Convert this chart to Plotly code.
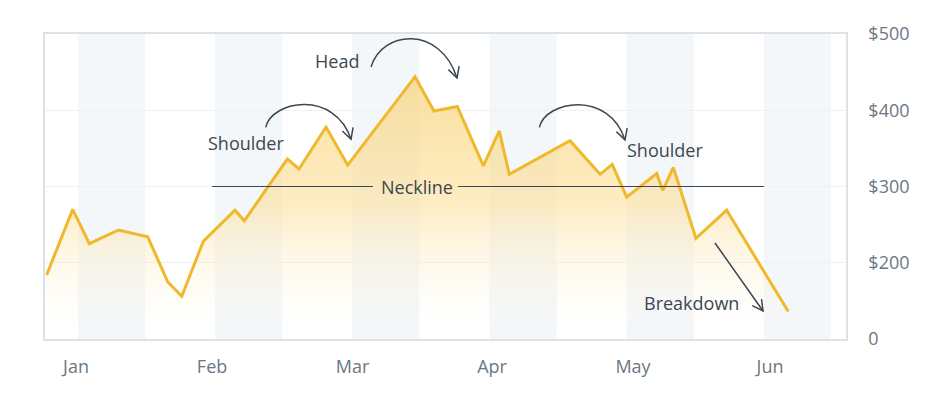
import math
import plotly.graph_objects as go

# price path, x in months from Jan (0 = Jan, 1 = Feb, ...)
months = ["Jan", "Feb", "Mar", "Apr", "May", "Jun"]
month_ticks = [-0.014, 0.978, 2.003, 3.019, 4.047, 5.046]
x_pos = [-0.228, -0.038, 0.083, 0.295, 0.509, 0.655, 0.757, 0.914, 1.145, 1.213,
         1.527, 1.612, 1.809, 1.967, 2.458, 2.596, 2.766, 2.956, 3.072, 3.145,
         3.588, 3.807, 3.896, 4.001, 4.220, 4.264, 4.341, 4.506, 4.730, 5.179]
price = [184, 270, 225, 243, 234, 175, 156, 228, 269, 255,
         336, 323, 378, 328, 444, 399, 405, 327, 373, 316,
         360, 316, 329, 286, 317, 295, 325, 232, 269, 136]
neckline = 300
y_ticks = [100, 200, 300, 400, 500]
y_labels = ["0", "$200", "$300", "$400", "$500"]

# page body adds 8px margin, so the figure is a bit smaller than the window
W, H = 939, 398
L, R, T, B = 37, 101, 26, 67
XR = [-0.24, 5.6]
YR = [100, 500]
px_x = (W - L - R) / (XR[1] - XR[0])
px_y = (H - T - B) / (YR[1] - YR[0])

INK = "#3b4751"
FONT = "Open Sans"

fig = go.Figure()
fig.add_trace(go.Scatter(
    x=x_pos, y=price, mode="lines",
    line=dict(color="#efb92b", width=3),
    fill="tozeroy",
    fillgradient=dict(type="vertical", start=110, stop=445,
                      colorscale=[[0, "rgba(255,248,230,0)"],
                                  [0.5, "rgba(252,224,155,0.6)"],
                                  [1, "rgba(248,206,105,0.65)"]]),
    hoverinfo="skip", showlegend=False,
))

shapes = []
# half-month stripes
for m in range(len(months)):
    shapes.append(dict(type="rect", xref="x", yref="paper", x0=m, x1=m + 0.49,
                       y0=0, y1=1, fillcolor="#f4f7fa", line=dict(width=0),
                       layer="below"))

# neckline, broken around its label
for a, b in [(0.978, 2.151), (2.771, 5.002)]:
    shapes.append(dict(type="line", xref="x", yref="y", x0=a, x1=b,
                       y0=neckline, y1=neckline, line=dict(color=INK, width=1.2)))


def arrow_head(x, y, dx, dy, size=12, spread=28):
    # open V at (x, y); direction given in screen pixels (dy down)
    ang = math.atan2(dy, dx)
    pts = []
    for s in (-1, 1):
        a = ang + math.pi + s * math.radians(spread)
        pts.append((x + size * math.cos(a) / px_x, y - size * math.sin(a) / px_y))
    return "M {},{} L {},{} L {},{}".format(pts[0][0], pts[0][1], x, y, pts[1][0], pts[1][1])


# curved arrows: start, control 1, control 2, end
curves = [
    [(2.137, 456.7), (2.217, 505.2), (2.640, 511.8), (2.764, 442.3)],
    [(1.369, 377.6), (1.415, 413.4), (1.874, 426.6), (1.991, 361.9)],
    [(3.364, 377.6), (3.413, 413.4), (3.872, 426.6), (3.989, 361.0)],
]
for p0, c1, c2, p1 in curves:
    shapes.append(dict(type="path", xref="x", yref="y",
                       path="M {},{} C {},{} {},{} {},{}".format(*p0, *c1, *c2, *p1),
                       line=dict(color=INK, width=1.5)))
    dx = (p1[0] - c2[0]) * px_x
    dy = -(p1[1] - c2[1]) * px_y
    shapes.append(dict(type="path", xref="x", yref="y",
                       path=arrow_head(p1[0], p1[1], dx, dy),
                       line=dict(color=INK, width=1.5)))

# breakdown arrow
b0, b1 = (4.645, 225.9), (4.995, 136.7)
shapes.append(dict(type="line", xref="x", yref="y", x0=b0[0], y0=b0[1],
                   x1=b1[0], y1=b1[1], line=dict(color=INK, width=1.5)))
shapes.append(dict(type="path", xref="x", yref="y",
                   path=arrow_head(b1[0], b1[1], (b1[0] - b0[0]) * px_x,
                                   -(b1[1] - b0[1]) * px_y),
                   line=dict(color=INK, width=1.5)))

labels = [
    ("Head", 1.888, 464.6),
    ("Shoulder", 1.225, 357.1),
    ("Shoulder", 4.279, 347.9),
    ("Breakdown", 4.470, 147.6),
    ("Neckline", 2.469, 300),
]
annotations = [dict(text=t, x=x, y=y, xref="x", yref="y", showarrow=False,
                    font=dict(family=FONT, size=18, color=INK))
               for t, x, y in labels]

fig.update_layout(
    width=W, height=H,
    margin=dict(l=L, r=R, t=T, b=B),
    paper_bgcolor="white", plot_bgcolor="white",
    shapes=shapes, annotations=annotations,
    font=dict(family=FONT, size=18, color="#6b7782"),
    xaxis=dict(range=XR, tickvals=month_ticks, ticktext=months,
               showgrid=False, zeroline=False, showline=True, mirror=True,
               linecolor="#dce3e8", linewidth=1.5, ticks="",
               ticklabelstandoff=11, fixedrange=True),
    yaxis=dict(range=YR, tickvals=y_ticks, ticktext=y_labels, side="right",
               showgrid=True, gridcolor="#edf1f4", gridwidth=1, zeroline=False,
               showline=True, mirror=True, linecolor="#dce3e8", linewidth=1.5,
               ticks="", ticklabelstandoff=17, fixedrange=True),
)

fig.write_html("out.html")
